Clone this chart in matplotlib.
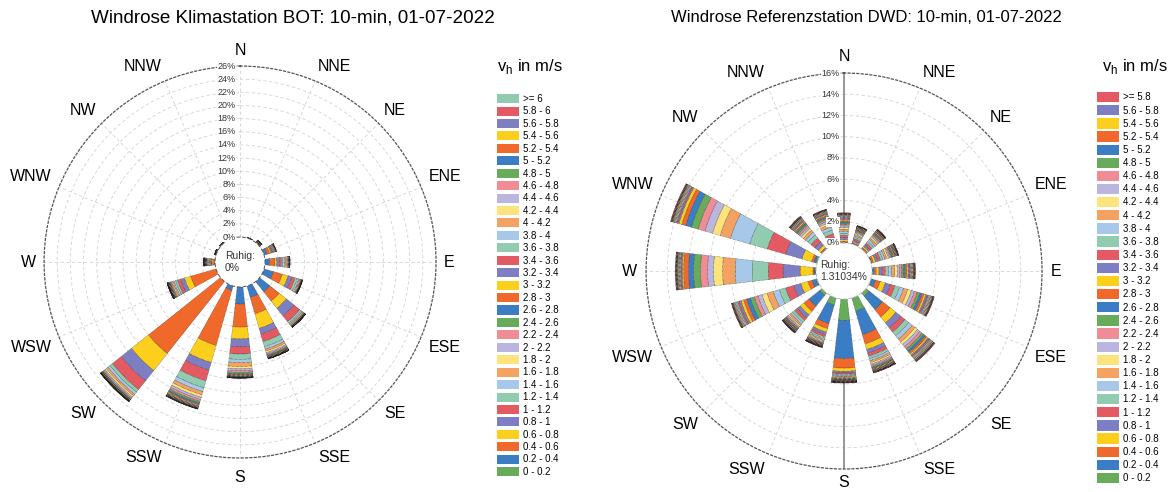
import numpy as np
import matplotlib.pyplot as plt
from matplotlib.patches import Patch

plt.rcParams["font.family"] = ["Liberation Sans", "DejaVu Sans"]

directions = ["N", "NNE", "NE", "ENE", "E", "ESE", "SE", "SSE",
              "S", "SSW", "SW", "WSW", "W", "WNW", "NW", "NNW"]
dir_deg = [0, 22.5, 45, 67.5, 90, 112.5, 135, 157.5,
           180, 202.5, 225, 247.5, 270, 292.5, 315, 337.5]

# speed class edges in m/s
bot_edges = ["0", "0.2", "0.4", "0.6", "0.8", "1", "1.2", "1.4", "1.6", "1.8",
             "2", "2.2", "2.4", "2.6", "2.8", "3", "3.2", "3.4", "3.6", "3.8",
             "4", "4.2", "4.4", "4.6", "4.8", "5", "5.2", "5.4", "5.6", "5.8", "6"]
dwd_edges = ["0", "0.2", "0.4", "0.6", "0.8", "1", "1.2", "1.4", "1.6", "1.8",
             "2", "2.2", "2.4", "2.6", "2.8", "3", "3.2", "3.4", "3.6", "3.8",
             "4", "4.2", "4.4", "4.6", "4.8", "5", "5.2", "5.4", "5.6", "5.8"]

palette = ["#67ab5b", "#3b7dc4", "#f0682a", "#fccf1d", "#7e7fc2", "#e35a62",
           "#91cbb0", "#a7c8e8", "#f3a261", "#fce37c", "#bab6df", "#f08c95"]

# Klimastation BOT, frequency in % per direction (N ... NNW) and speed class (0-0.2 ... >=6)
bot_freq = [
    [0, 0, 0, 0, 0, 0, 0, 0, 0, 0, 0, 0, 0, 0, 0, 0, 0, 0, 0, 0, 0, 0, 0, 0, 0, 0, 0, 0, 0, 0, 0],
    [0, 0.02, 0.02, 0.02, 0.01, 0.01, 0.01, 0.01, 0, 0, 0, 0, 0, 0, 0, 0, 0, 0, 0, 0, 0, 0, 0, 0, 0, 0, 0, 0, 0, 0, 0],
    [0, 0.05, 0.05, 0.05, 0.05, 0.04, 0.04, 0.04, 0.03, 0.03, 0.03, 0.02, 0.02, 0.02, 0.01, 0.01, 0, 0, 0, 0, 0, 0, 0, 0, 0, 0, 0, 0, 0, 0, 0],
    [0, 0.5, 0.4, 0.2, 0.2, 0.15, 0.1, 0.1, 0.08, 0.06, 0.05, 0.04, 0.03, 0.02, 0.02, 0.01, 0.01, 0, 0, 0, 0, 0, 0, 0, 0, 0, 0, 0, 0, 0, 0],
    [0, 0.7, 0.8, 0.3, 0.4, 0.3, 0.2, 0.25, 0.2, 0.15, 0.12, 0.1, 0.08, 0.06, 0.04, 0.03, 0.02, 0.02, 0.01, 0.01, 0.01, 0, 0, 0, 0, 0, 0, 0, 0, 0, 0],
    [0, 1.5, 1.4, 0.9, 0.6, 0.5, 0.35, 0.25, 0.15, 0.1, 0.08, 0.06, 0.05, 0.04, 0.03, 0.02, 0.02, 0.01, 0.01, 0.01, 0.01, 0.01, 0.01, 0, 0, 0, 0, 0, 0, 0, 0],
    [0, 2.0, 1.8, 1.4, 1.5, 1.1, 0.3, 0.2, 0.15, 0.1, 0.08, 0.06, 0.05, 0.04, 0.03, 0.02, 0.02, 0.02, 0.01, 0.01, 0.01, 0.01, 0.01, 0.01, 0.01, 0.01, 0, 0, 0, 0, 0],
    [0, 1.8, 2.6, 2.3, 0.9, 1.2, 0.8, 0.4, 0.3, 0.25, 0.2, 0.15, 0.12, 0.1, 0.08, 0.06, 0.05, 0.04, 0.03, 0.03, 0.02, 0.02, 0.02, 0.01, 0.01, 0.01, 0.01, 0.01, 0.01, 0.01, 0.01],
    [0, 2.6, 3.5, 1.8, 1.2, 1.1, 0.8, 0.5, 0.6, 0.35, 0.3, 0.25, 0.2, 0.15, 0.1, 0.08, 0.06, 0.05, 0.04, 0.03, 0.03, 0.02, 0.02, 0.02, 0.01, 0.01, 0.01, 0.01, 0.01, 0.01, 0.01],
    [0, 0.7, 8.7, 2.7, 1.2, 1.7, 1.1, 0.6, 0.5, 0.4, 0.35, 0.3, 0.25, 0.2, 0.15, 0.12, 0.1, 0.08, 0.06, 0.05, 0.04, 0.03, 0.03, 0.02, 0.02, 0.02, 0.01, 0.01, 0.01, 0.01, 0.02],
    [0, 0, 14.0, 3.3, 2.0, 1.7, 0.5, 0.4, 0.3, 0.25, 0.2, 0.15, 0.1, 0.08, 0.06, 0.05, 0.04, 0.03, 0.03, 0.02, 0.02, 0.02, 0.02, 0.01, 0.01, 0.01, 0.01, 0.01, 0.01, 0.01, 0.02],
    [0, 0, 4.0, 1.0, 0.6, 0.5, 0.3, 0.25, 0.2, 0.15, 0.12, 0.1, 0.1, 0.08, 0.06, 0.05, 0.04, 0.03, 0.03, 0.02, 0.02, 0.02, 0.01, 0.01, 0.01, 0.01, 0.01, 0.01, 0.01, 0.01, 0.01],
    [0, 0.05, 0.3, 0.15, 0.1, 0.1, 0.1, 0.1, 0.15, 0.1, 0.08, 0.07, 0.06, 0.05, 0.05, 0.04, 0.04, 0.03, 0.03, 0.02, 0.02, 0.02, 0.02, 0.01, 0.01, 0.01, 0.01, 0.01, 0.01, 0.01, 0.01],
    [0, 0.02, 0.04, 0.03, 0.03, 0.02, 0.02, 0.02, 0.02, 0.02, 0.01, 0.01, 0.01, 0.01, 0.01, 0, 0, 0, 0, 0, 0, 0, 0, 0, 0, 0, 0, 0, 0, 0, 0],
    [0, 0.02, 0.03, 0.02, 0.02, 0.02, 0.02, 0.01, 0.01, 0.01, 0.01, 0, 0, 0, 0, 0, 0, 0, 0, 0, 0, 0, 0, 0, 0, 0, 0, 0, 0, 0, 0],
    [0, 0, 0, 0, 0, 0, 0, 0, 0, 0, 0, 0, 0, 0, 0, 0, 0, 0, 0, 0, 0, 0, 0, 0, 0, 0, 0, 0, 0, 0, 0],
]

# Referenzstation DWD, frequency in % per direction (N ... NNW) and speed class (0-0.2 ... >=5.8)
dwd_freq = [
    [0.02, 0.05, 0.1, 0.15, 0.2, 0.2, 0.2, 0.2, 0.18, 0.16, 0.15, 0.14, 0.13, 0.12, 0.11, 0.1, 0.09, 0.08, 0.07, 0.06, 0.05, 0.05, 0.04, 0.04, 0.03, 0.03, 0.02, 0.02, 0.02, 0.05],
    [0.02, 0.05, 0.08, 0.1, 0.15, 0.15, 0.14, 0.13, 0.12, 0.11, 0.1, 0.09, 0.08, 0.07, 0.06, 0.05, 0.05, 0.04, 0.04, 0.03, 0.03, 0.02, 0.02, 0.02, 0.01, 0.01, 0.01, 0.01, 0.01, 0.02],
    [0.02, 0.05, 0.1, 0.15, 0.2, 0.2, 0.22, 0.2, 0.18, 0.15, 0.13, 0.12, 0.1, 0.09, 0.08, 0.07, 0.06, 0.05, 0.04, 0.03, 0.03, 0.02, 0.02, 0.02, 0.01, 0.01, 0.01, 0.01, 0.01, 0.02],
    [0.02, 0.08, 0.15, 0.2, 0.25, 0.25, 0.22, 0.2, 0.18, 0.16, 0.14, 0.12, 0.1, 0.09, 0.08, 0.07, 0.06, 0.05, 0.05, 0.04, 0.04, 0.03, 0.03, 0.02, 0.02, 0.02, 0.01, 0.01, 0.01, 0.03],
    [0.05, 0.15, 0.2, 0.25, 0.3, 0.3, 0.3, 0.3, 0.28, 0.25, 0.22, 0.2, 0.18, 0.16, 0.14, 0.12, 0.1, 0.09, 0.08, 0.07, 0.06, 0.05, 0.04, 0.04, 0.03, 0.03, 0.02, 0.02, 0.02, 0.05],
    [0.1, 0.35, 0.45, 0.5, 0.5, 0.45, 0.45, 0.4, 0.4, 0.35, 0.3, 0.28, 0.25, 0.22, 0.2, 0.17, 0.15, 0.12, 0.1, 0.08, 0.07, 0.06, 0.05, 0.04, 0.03, 0.03, 0.02, 0.02, 0.02, 0.04],
    [0.4, 1.6, 0.9, 0.7, 0.6, 0.5, 0.45, 0.4, 0.35, 0.3, 0.28, 0.25, 0.22, 0.2, 0.17, 0.15, 0.13, 0.11, 0.1, 0.08, 0.07, 0.06, 0.05, 0.04, 0.04, 0.03, 0.03, 0.02, 0.02, 0.05],
    [1.3, 2.3, 0.9, 0.55, 0.35, 0.3, 0.25, 0.2, 0.18, 0.15, 0.13, 0.11, 0.1, 0.08, 0.07, 0.06, 0.05, 0.04, 0.04, 0.03, 0.03, 0.02, 0.02, 0.02, 0.01, 0.01, 0.01, 0.01, 0.01, 0.03],
    [2.0, 3.6, 0.9, 0.3, 0.15, 0.12, 0.1, 0.09, 0.08, 0.07, 0.06, 0.05, 0.05, 0.04, 0.04, 0.03, 0.03, 0.03, 0.02, 0.02, 0.02, 0.02, 0.01, 0.01, 0.01, 0.01, 0.01, 0.01, 0.01, 0.02],
    [0.7, 1.8, 0.5, 0.35, 0.25, 0.2, 0.15, 0.13, 0.11, 0.1, 0.08, 0.07, 0.06, 0.05, 0.04, 0.04, 0.03, 0.03, 0.02, 0.02, 0.02, 0.02, 0.01, 0.01, 0.01, 0.01, 0.01, 0.01, 0.01, 0.02],
    [0.3, 1.3, 0.6, 0.45, 0.35, 0.3, 0.25, 0.2, 0.17, 0.14, 0.12, 0.1, 0.08, 0.07, 0.06, 0.05, 0.04, 0.04, 0.03, 0.03, 0.02, 0.02, 0.02, 0.01, 0.01, 0.01, 0.01, 0.01, 0.01, 0.02],
    [0.1, 0.4, 0.4, 0.7, 0.7, 0.8, 0.6, 0.6, 0.6, 0.5, 0.4, 0.35, 0.4, 0.35, 0.3, 0.25, 0.2, 0.15, 0.12, 0.1, 0.08, 0.06, 0.05, 0.04, 0.03, 0.03, 0.02, 0.02, 0.02, 0.04],
    [0.1, 0.1, 0.1, 1.2, 1.6, 1.4, 1.5, 1.6, 1.2, 0.85, 0.56, 0.66, 0.66, 0.47, 0.47, 0.12, 0.1, 0.08, 0.07, 0.06, 0.05, 0.05, 0.04, 0.04, 0.03, 0.03, 0.03, 0.02, 0.02, 0.05],
    [0.15, 0.2, 0.2, 0.94, 1.6, 1.8, 1.7, 1.9, 1.0, 0.75, 0.75, 0.66, 0.66, 0.56, 0.38, 0.28, 0.14, 0.11, 0.09, 0.08, 0.07, 0.06, 0.05, 0.04, 0.04, 0.03, 0.03, 0.02, 0.02, 0.05],
    [0.02, 0.05, 0.1, 0.3, 0.4, 0.45, 0.4, 0.3, 0.25, 0.22, 0.2, 0.18, 0.15, 0.13, 0.11, 0.1, 0.09, 0.08, 0.07, 0.06, 0.05, 0.04, 0.04, 0.03, 0.03, 0.02, 0.02, 0.02, 0.01, 0.03],
    [0.02, 0.05, 0.1, 0.2, 0.3, 0.35, 0.35, 0.3, 0.25, 0.2, 0.18, 0.16, 0.14, 0.12, 0.1, 0.09, 0.08, 0.07, 0.06, 0.05, 0.04, 0.04, 0.03, 0.03, 0.02, 0.02, 0.02, 0.01, 0.01, 0.03],
]

bot_calm = "0%"
dwd_calm = "1.31034%"

fig = plt.figure(figsize=(11.71, 4.92), dpi=100)


def draw_rose(rect, freq, rmax, hole, calm, solid_axis=False, lab_r=0.52, s_adj=0.0,
              hole_col="#777777"):
    ax = fig.add_axes(rect, projection="polar")
    theta = np.radians(dir_deg)
    freq = np.array(freq)
    bottom = np.zeros(len(dir_deg))
    for j in range(freq.shape[1]):
        h = freq[:, j]
        ec = ["#111111" if v > 0 else "none" for v in h]
        ax.bar(theta, h, width=np.radians(13), bottom=bottom,
               color=palette[j % 12], edgecolor=ec, linewidth=0.35,
               linestyle=":", zorder=2)
        bottom += h
    ax.set_theta_zero_location("N")
    ax.set_theta_direction(-1)
    ax.set_ylim(0, rmax)
    ax.set_rorigin(-hole)
    ax.set_axisbelow(True)
    ax.set_xticks(theta)
    ax.set_xticklabels([])
    ticks = np.arange(0, rmax + 1, 2)
    ax.set_yticks(ticks)
    ax.set_yticklabels([])
    ax.grid(color="#d2d2d2", linestyle=(0, (4, 3)), linewidth=0.6)
    ax.spines["polar"].set_linestyle((0, (1.5, 2)))
    ax.spines["polar"].set_color("#555555")
    ax.spines["polar"].set_linewidth(0.9)
    ax.spines["inner"].set_linestyle((0, (3, 3)))
    ax.spines["inner"].set_color(hole_col)
    ax.spines["inner"].set_linewidth(0.7)
    if solid_axis:
        ax.plot([0, 0], [0, rmax], color="#888888", lw=1.2, zorder=1)
        ax.plot([np.pi, np.pi], [0, rmax], color="#888888", lw=1.2, zorder=1)
    for t in ticks:
        ax.annotate(f"{t}%", xy=(0, t), xytext=(-3, 0), textcoords="offset points",
                    ha="right", va="center", fontsize=6.5, color="#333333", zorder=3,
                    bbox=dict(boxstyle="square,pad=0.05", fc="white", ec="none"))
    ax.text(0.5, 0.5, "Ruhig:\n" + calm, transform=ax.transAxes, ha="center",
            va="center", multialignment="left", fontsize=7.5, color="#333333", zorder=4)
    for d, a in zip(directions, dir_deg):
        s, c = np.sin(np.radians(a)), np.cos(np.radians(a))
        ha = "center" if abs(s) < 1e-6 else ("left" if s > 0 else "right")
        if abs(c) < 1e-6:
            va = "center"
        else:
            va = "bottom" if c > 0 else "top"
        r = lab_r + (s_adj if a == 180 else 0)
        ax.text(0.5 + r * s, 0.5 + r * c, d, transform=ax.transAxes,
                ha=ha, va=va, fontsize=11.5)
    return ax


draw_rose([0.0376, 0.0691, 0.3348, 0.7967], bot_freq, 26, 3.8, bot_calm,
          lab_r=0.52, s_adj=0.01, hole_col="#555555")
draw_rose([0.5517, 0.0467, 0.3382, 0.8049], dwd_freq, 16, 2.64, dwd_calm,
          solid_axis=True, lab_r=0.522, s_adj=-0.008, hole_col="#bbbbbb")

fig.text(293 / 1171, 1 - 18 / 492, "Windrose Klimastation BOT: 10-min, 01-07-2022",
         ha="center", va="center", fontsize=13.6)
fig.text(866 / 1171, 1 - 18 / 492, "Windrose Referenzstation DWD: 10-min, 01-07-2022",
         ha="center", va="center", fontsize=12)


def add_legend(x, x_title, y_title, y_top, edges, spacing, hh):
    labels = [f"{a} - {b}" for a, b in zip(edges[:-1], edges[1:])] + [f">= {edges[-1]}"]
    handles = [Patch(facecolor=palette[i % 12], edgecolor="none") for i in range(len(labels))]
    fig.text(x_title, y_title, r"v$_\mathregular{h}$ in m/s", ha="left", va="center", fontsize=12)
    fig.legend(handles[::-1], labels[::-1], loc="upper left", bbox_to_anchor=(x, y_top),
               frameon=False, fontsize=7, handlelength=2.3, handleheight=hh,
               labelspacing=spacing, handletextpad=0.4, borderpad=0, borderaxespad=0)


add_legend(497 / 1171, 497 / 1171, 1 - 66 / 492, 1 - 94 / 492, bot_edges, 0.25, 1.05)
add_legend(1097 / 1171, 1102 / 1171, 1 - 66 / 492, 1 - 92 / 492, dwd_edges, 0.28, 1.25)

fig.savefig("out.png", dpi=100, facecolor="white")
